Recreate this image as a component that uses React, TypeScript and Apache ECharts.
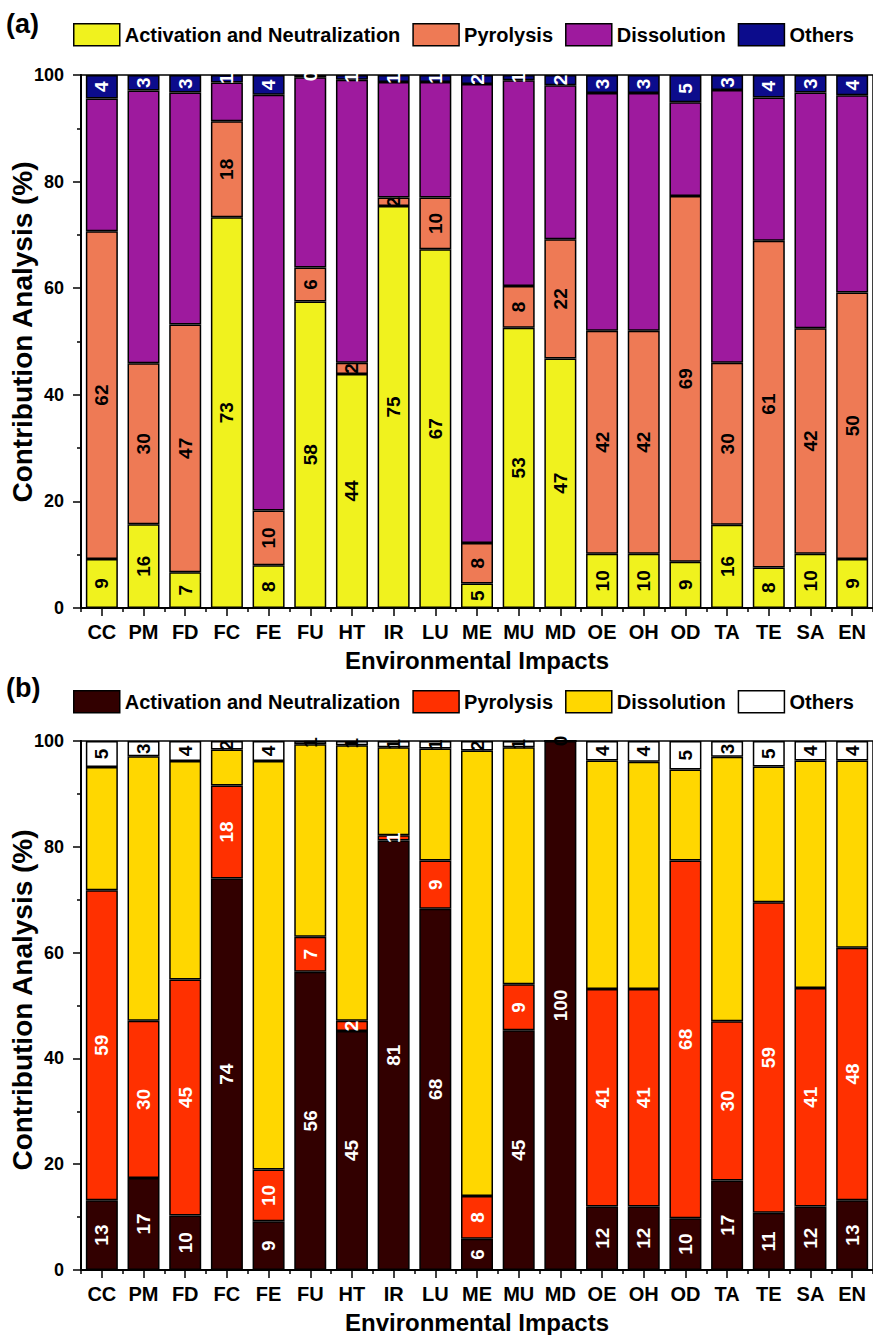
import React, { useEffect, useRef } from "react";
import * as echarts from "echarts";

const categories = ["CC", "PM", "FD", "FC", "FE", "FU", "HT", "IR", "LU", "ME", "MU", "MD", "OE", "OH", "OD", "TA", "TE", "SA", "EN"];

const seriesNames = ["Activation and Neutralization", "Pyrolysis", "Dissolution", "Others"];

// Panel (a)
const activationA = [9.2, 15.7, 6.7, 73.3, 8.0, 57.5, 43.9, 75.4, 67.3, 4.6, 52.6, 46.8, 10.2, 10.2, 8.7, 15.6, 7.6, 10.2, 9.2];
const pyrolysisA = [61.5, 30.2, 46.5, 18.0, 10.3, 6.4, 2.1, 1.6, 9.7, 7.6, 7.8, 22.4, 41.8, 41.8, 68.6, 30.4, 61.3, 42.3, 50.0];
const dissolutionA = [24.9, 51.2, 43.5, 7.3, 78.0, 35.7, 53.1, 21.7, 21.7, 86.1, 38.6, 28.9, 44.6, 44.6, 17.6, 51.2, 26.9, 44.2, 37.0];
const othersA = [4.4, 2.9, 3.3, 1.4, 3.7, 0.4, 0.9, 1.3, 1.3, 1.7, 1.0, 1.9, 3.4, 3.4, 5.1, 2.8, 4.2, 3.3, 3.8];

// Panel (b)
const activationB = [13.2, 17.4, 10.3, 74.0, 9.2, 56.4, 45.2, 81.2, 68.3, 5.9, 45.3, 100, 12.0, 12.0, 9.8, 16.9, 10.8, 12.0, 13.2];
const pyrolysisB = [58.6, 29.7, 44.6, 17.6, 9.8, 6.6, 1.9, 1.0, 9.1, 8.1, 8.7, 0, 41.1, 41.1, 67.6, 30.1, 58.7, 41.3, 47.7];
const dissolutionB = [23.3, 50.0, 41.3, 6.8, 77.2, 36.4, 52.1, 16.6, 21.2, 84.2, 44.8, 0, 43.2, 43.0, 17.2, 50.0, 25.7, 43.0, 35.4];
const othersB = [4.9, 2.9, 3.8, 1.6, 3.8, 0.6, 0.8, 1.2, 1.4, 1.8, 1.2, 0, 3.7, 3.9, 5.4, 3.0, 4.8, 3.7, 3.7];

const yTicks = { min: 0, max: 100, interval: 20 };

const colorsA = ["#F0F21E", "#EE7A55", "#9E1A9E", "#0C0C8C"];
const colorsB = ["#320000", "#FF3000", "#FFD700", "#FFFFFF"];
const labelColorsA = ["#000", "#000", "#000", "#fff"];
const labelColorsB = ["#fff", "#fff", "#000", "#000"];

const FONT = "'Liberation Sans', Arial, Helvetica, sans-serif";

const GRID_LEFT = 81;
const GRID_W = 794;
const GRID_H = 533;
const TOPS = [75, 741];

export default function App() {
  const ref = useRef<HTMLDivElement>(null);

  useEffect(() => {
    if (!ref.current) return;
    const chart = echarts.init(ref.current, null, { renderer: "svg" });

    const panels = [
      { data: [activationA, pyrolysisA, dissolutionA, othersA], colors: colorsA, labelColors: labelColorsA, suffix: "" },
      { data: [activationB, pyrolysisB, dissolutionB, othersB], colors: colorsB, labelColors: labelColorsB, suffix: " (b)" },
    ];

    const series: any[] = [];
    panels.forEach((p, pi) => {
      p.data.forEach((vals, si) => {
        const isOthers = si === 3;
        series.push({
          type: "bar",
          name: seriesNames[si] + p.suffix,
          xAxisIndex: pi,
          yAxisIndex: pi,
          stack: "s" + pi,
          data: vals,
          barWidth: 32,
          itemStyle: { color: p.colors[si], borderColor: "#000", borderWidth: 1.5 },
          label: {
            show: si !== 2,
            position: "inside",
            rotate: 90,
            align: "center",
            verticalAlign: "middle",
            fontSize: 19,
            fontWeight: "bold",
            fontFamily: FONT,
            color: p.labelColors[si],
            formatter: (d: any) => {
              if (!isOthers && d.value === 0) return "";
              return String(Math.round(d.value));
            },
          },
        });
      });
    });

    const grids = TOPS.map((t) => ({
      left: GRID_LEFT,
      top: t,
      width: GRID_W,
      height: GRID_H,
      show: true,
      borderColor: "#000",
      borderWidth: 1.5,
      backgroundColor: "transparent",
      containLabel: false,
    }));

    const mainX = TOPS.map((_, gi) => ({
      type: "category",
      gridIndex: gi,
      data: categories,
      position: "bottom",
      axisLine: { lineStyle: { color: "#000", width: 2 } },
      axisTick: { show: true, alignWithLabel: true, length: 8, lineStyle: { color: "#000", width: 1.5 } },
      axisLabel: { margin: 14, fontSize: 20, fontWeight: "bold", fontFamily: FONT, color: "#000" },
      name: "Environmental Impacts",
      nameLocation: "middle",
      nameGap: 40,
      nameTextStyle: { fontSize: 24, fontWeight: "bold", fontFamily: FONT, color: "#000" },
    }));
    const minorX = TOPS.map((_, gi) => ({
      type: "category",
      gridIndex: gi,
      data: categories,
      position: "bottom",
      axisLine: { show: false },
      axisTick: { show: true, alignWithLabel: false, length: 4, lineStyle: { color: "#000", width: 1.5 } },
      axisLabel: { show: false },
    }));

    const yAxes = TOPS.map((_, gi) => ({
      type: "value",
      gridIndex: gi,
      min: yTicks.min,
      max: yTicks.max,
      interval: yTicks.interval,
      splitLine: { show: false },
      axisLine: { show: true, lineStyle: { color: "#000", width: 2 } },
      axisTick: { show: true, length: 8, lineStyle: { color: "#000", width: 1.5 } },
      minorTick: { show: true, splitNumber: 2, length: 4, lineStyle: { color: "#000", width: 1.5 } },
      axisLabel: { margin: 17, fontSize: 18, fontWeight: "bold", fontFamily: FONT, color: "#000" },
    }));

    const legendBase = {
      left: 68,
      orient: "horizontal",
      itemWidth: 46,
      itemHeight: 22,
      itemGap: 12,
      icon: "rect",
      selectedMode: false,
      itemStyle: { borderColor: "#000", borderWidth: 1.5 },
      textStyle: { fontSize: 20, fontWeight: "bold", fontFamily: FONT, color: "#000", padding: [0, 0, 0, 0] },
    };

    const option: any = {
      animation: false,
      backgroundColor: "#fff",
      grid: grids,
      xAxis: [...mainX, ...minorX],
      yAxis: yAxes,
      legend: [
        { ...legendBase, top: 18, data: seriesNames.map((n) => n) },
        {
          ...legendBase,
          top: 685,
          data: seriesNames.map((n) => n + " (b)"),
          formatter: (n: string) => n.replace(" (b)", ""),
        },
      ],
      graphic: [
        {
          type: "rect",
          z: 100,
          shape: { x: GRID_LEFT + 1, y: 60, width: GRID_W, height: 14 },
          style: { fill: "#fff" },
        },
        {
          type: "text",
          left: 6,
          top: 10,
          style: { text: "(a)", fontSize: 27, fontWeight: "bold", fontFamily: FONT, fill: "#000" },
        },
        {
          type: "text",
          left: 6,
          top: 674,
          style: { text: "(b)", fontSize: 27, fontWeight: "bold", fontFamily: FONT, fill: "#000" },
        },
        {
          type: "text",
          x: 22,
          y: 332,
          rotation: Math.PI / 2,
          style: {
            text: "Contribution Analysis (%)",
            fontSize: 28,
            fontWeight: "bold",
            fontFamily: FONT,
            fill: "#000",
            align: "center",
            verticalAlign: "middle",
          },
        },
        {
          type: "text",
          x: 22,
          y: 1000,
          rotation: Math.PI / 2,
          style: {
            text: "Contribution Analysis (%)",
            fontSize: 28,
            fontWeight: "bold",
            fontFamily: FONT,
            fill: "#000",
            align: "center",
            verticalAlign: "middle",
          },
        },
      ],
      series,
    };

    chart.setOption(option);
    return () => chart.dispose();
  }, []);

  return (
    <div
      ref={ref}
      style={{ position: "absolute", left: 0, top: 0, width: 873, height: 1335, background: "#fff" }}
    />
  );
}
